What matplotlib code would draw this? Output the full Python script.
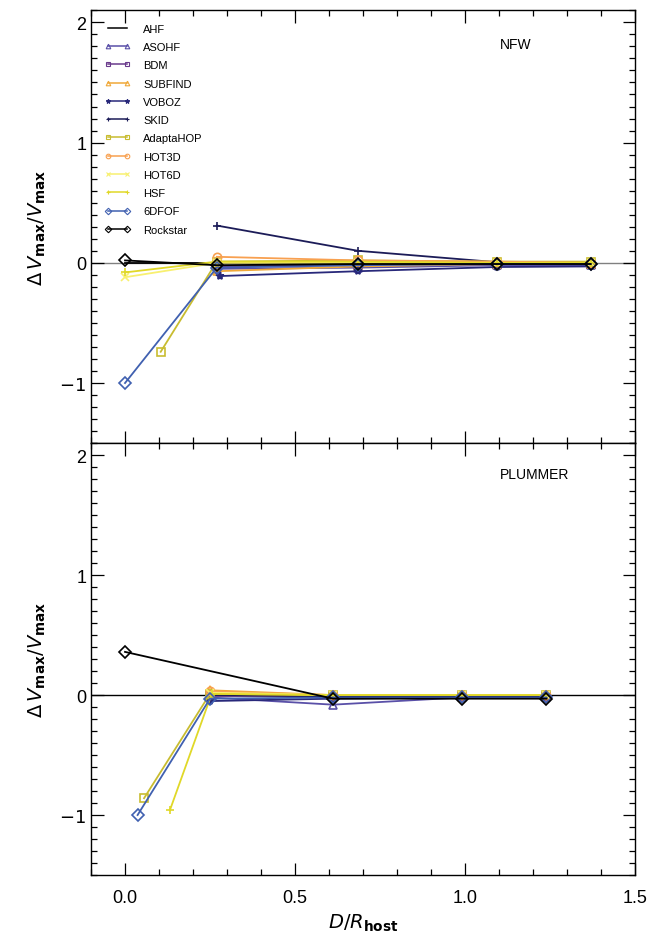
import numpy as np
import matplotlib.pyplot as plt
from matplotlib.ticker import MultipleLocator

plt.rcParams['font.family'] = ['Liberation Sans', 'DejaVu Sans']
plt.rcParams['mathtext.fontset'] = 'dejavusans'

finders = ['AHF', 'ASOHF', 'BDM', 'SUBFIND', 'VOBOZ', 'SKID', 'AdaptaHOP',
           'HOT3D', 'HOT6D', 'HSF', '6DFOF', 'Rockstar']
colors = ['black', '#5a50a8', '#6a3a8c', '#f0a838', '#28287a', '#1c1c58',
          '#c8bc30', '#f8a050', '#f8f070', '#e0d828', '#4060b0', 'black']
markers = ['', '^', 's', '^', '*', '+', 's', 'o', 'x', '+', 'D', 'D']

# NFW panel
nfw_x = {
    'AHF':       [0.0, 0.27, 0.685, 1.095, 1.37],
    'ASOHF':     [0.27, 0.685, 1.095, 1.37],
    'BDM':       [0.27, 0.685, 1.095, 1.37],
    'SUBFIND':   [0.27, 0.685, 1.095, 1.37],
    'VOBOZ':     [0.28, 0.685, 1.095, 1.37],
    'SKID':      [0.27, 0.685, 1.095, 1.37],
    'AdaptaHOP': [0.105, 0.27, 0.685, 1.095, 1.37],
    'HOT3D':     [0.27, 0.685, 1.095, 1.37],
    'HOT6D':     [0.0, 0.27, 0.685, 1.095, 1.37],
    'HSF':       [0.0, 0.27, 0.685, 1.095, 1.37],
    '6DFOF':     [0.0, 0.27, 0.685, 1.095, 1.37],
    'Rockstar':  [0.0, 0.27, 0.685, 1.095, 1.37],
}
nfw_y = {
    'AHF':       [0.0, 0.0, 0.0, 0.0, 0.0],
    'ASOHF':     [-0.05, -0.04, -0.02, -0.02],
    'BDM':       [-0.03, -0.02, -0.01, -0.01],
    'SUBFIND':   [-0.07, -0.03, -0.01, -0.01],
    'VOBOZ':     [-0.11, -0.07, -0.035, -0.03],
    'SKID':      [0.31, 0.10, 0.005, -0.01],
    'AdaptaHOP': [-0.74, 0.01, 0.02, 0.01, 0.01],
    'HOT3D':     [0.05, 0.02, 0.01, 0.0],
    'HOT6D':     [-0.12, 0.0, 0.0, 0.0, 0.0],
    'HSF':       [-0.08, 0.01, 0.01, 0.0, 0.0],
    '6DFOF':     [-1.0, -0.04, -0.02, -0.01, -0.01],
    'Rockstar':  [0.02, -0.02, -0.01, -0.01, -0.01],
}

# PLUMMER panel
plum_x = {
    'AHF':       [0.25, 0.612, 0.99, 1.24],
    'ASOHF':     [0.25, 0.612, 0.99, 1.24],
    'BDM':       [0.25, 0.612, 0.99, 1.24],
    'SUBFIND':   [0.25, 0.612, 0.99, 1.24],
    'VOBOZ':     [0.25, 0.612, 0.99, 1.24],
    'SKID':      [0.25, 0.612, 0.99, 1.24],
    'AdaptaHOP': [0.056, 0.25, 0.612, 0.99, 1.24],
    'HOT3D':     [0.25, 0.612, 0.99, 1.24],
    'HOT6D':     [0.25, 0.612, 0.99, 1.24],
    'HSF':       [0.132, 0.255, 0.612, 0.99, 1.24],
    '6DFOF':     [0.037, 0.25, 0.612, 0.99, 1.24],
    'Rockstar':  [0.0, 0.612, 0.99, 1.24],
}
plum_y = {
    'AHF':       [0.0, 0.0, 0.0, 0.0],
    'ASOHF':     [-0.02, -0.08, -0.02, -0.02],
    'BDM':       [-0.01, -0.01, -0.01, -0.01],
    'SUBFIND':   [0.04, 0.0, 0.0, 0.0],
    'VOBOZ':     [-0.05, -0.03, -0.02, -0.02],
    'SKID':      [0.0, -0.01, -0.01, -0.01],
    'AdaptaHOP': [-0.86, 0.01, 0.0, 0.0, 0.0],
    'HOT3D':     [0.03, 0.0, 0.0, 0.0],
    'HOT6D':     [0.02, 0.0, 0.0, 0.0],
    'HSF':       [-0.96, 0.01, 0.0, 0.0, 0.0],
    '6DFOF':     [-1.0, -0.03, -0.02, -0.02, -0.02],
    'Rockstar':  [0.36, -0.03, -0.03, -0.03],
}

fig = plt.figure(figsize=(6.62, 9.45), dpi=100)
ax1 = fig.add_axes([0.1375, 0.530, 0.8215, 0.458])
ax2 = fig.add_axes([0.1375, 0.073, 0.8215, 0.457], sharex=ax1)


def draw(ax, xs, ys, zero_col):
    ax.axhline(0, color=zero_col, lw=1.0, zorder=1)
    for name, c, m in zip(finders, colors, markers):
        mfc = c if m in ('*',) else 'none'
        ax.plot(xs[name], ys[name], color=c, lw=1.3, marker=m, ms=6,
                mfc=mfc, mec=c, mew=1.2, label=name, zorder=3)
    ax.set_xlim(-0.1, 1.5)
    ax.set_ylim(-1.5, 2.1)
    ax.xaxis.set_major_locator(MultipleLocator(0.5))
    ax.xaxis.set_minor_locator(MultipleLocator(0.1))
    ax.yaxis.set_major_locator(MultipleLocator(1))
    ax.yaxis.set_minor_locator(MultipleLocator(0.1))
    ax.tick_params(which='both', direction='in', top=True, right=True,
                   labelsize=13, width=0.9)
    ax.tick_params(which='major', length=9)
    ax.tick_params(which='minor', length=4.5)
    ax.set_yticks([-1, 0, 1, 2])
    ax.set_yticklabels(['$-1$', '0', '1', '2'])
    ax.set_ylabel(r'$\Delta\, V_{\mathbf{max}}/V_{\mathbf{max}}$', fontsize=14,
                  labelpad=8)
    for s in ax.spines.values():
        s.set_linewidth(1.0)


draw(ax1, nfw_x, nfw_y, '0.5')
draw(ax2, plum_x, plum_y, 'black')
ax1.tick_params(labelbottom=False)

ax1.text(0.752, 0.912, 'NFW', transform=ax1.transAxes, fontsize=10)
ax2.text(0.752, 0.92, 'PLUMMER', transform=ax2.transAxes, fontsize=10)

leg = ax1.legend(loc='upper left', numpoints=2, frameon=False, fontsize=8,
                 handlelength=2.3, labelspacing=0.745, markerscale=0.55,
                 borderaxespad=0.8, handletextpad=1.2)
for h in leg.legend_handles:
    h.set_markeredgewidth(0.8)
    h.set_linewidth(1.1)

ax2.set_xticks([0.0, 0.5, 1.0, 1.5])
ax2.set_xticklabels(['0.0', '0.5', '1.0', '1.5'])
ax2.tick_params(axis='x', pad=10)
ax2.set_xlabel(r'$D/R_{\mathbf{host}}$', fontsize=14)

fig.savefig('out.png', dpi=100)
